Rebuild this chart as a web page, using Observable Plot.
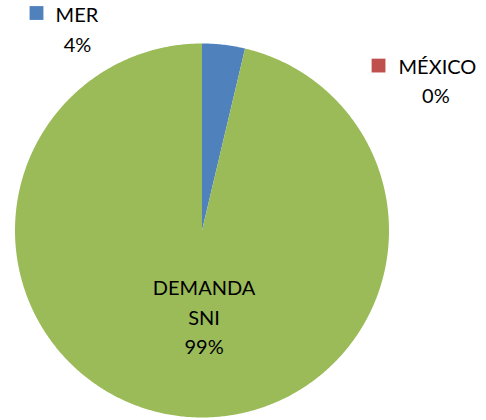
<!DOCTYPE html>
<html>
<head>
<meta charset="utf-8">
<script src="https://cdn.jsdelivr.net/npm/d3@7"></script>
<script src="https://cdn.jsdelivr.net/npm/@observablehq/plot@0.6"></script>
<style>
  html, body { margin: 0; padding: 0; background: #fff; }
  #chart { width: 486px; height: 420px; }
</style>
</head>
<body>
<div id="chart"></div>
<script>
// Data
const categories = ["MER", "MÉXICO", "DEMANDA\nSNI"];
const values = [3.7, 0, 96.3];
const pctLabels = ["4%", "0%", "99%"];
const colors = ["#4F81BD", "#C0504D", "#9BBB59"];

// Slice geometry from d3.pie (clockwise from 12 o'clock), in unit-radius coordinates
const pie = d3.pie().sort(null).value(d => d.value)(
  categories.map((c, i) => ({name: c, value: values[i], color: colors[i]}))
);
function ring(a0, a1) {
  const pts = [[0, 0]];
  const n = Math.max(2, Math.ceil((a1 - a0) / (Math.PI / 360)));
  for (let k = 0; k <= n; k++) {
    const a = a0 + (a1 - a0) * k / n;
    pts.push([Math.sin(a), Math.cos(a)]);
  }
  pts.push([0, 0]);
  return pts;
}
const slices = pie.map(p => ({
  type: "Feature",
  properties: {name: p.data.name, color: p.data.color},
  geometry: {type: "Polygon", coordinates: [ring(p.startAngle, p.endAngle)]}
}));

// Label layout (unit-radius coordinates)
const startLabels = [
  {text: categories[0], x: -0.783, y: 1.165}
];
const midLabels = [
  {text: pctLabels[0], x: -0.666, y: 1.006},
  {text: categories[1], x: 1.259, y: 0.885},
  {text: pctLabels[1], x: 1.251, y: 0.731},
  {text: categories[2] + "\n" + pctLabels[2], x: 0.011, y: -0.453}
];
const keys = [
  {x: -0.885, y: 1.163, color: colors[0]},
  {x: 0.944, y: 0.882, color: colors[1]}
];

const textStyle = {fontSize: 20, fill: "#000", lineHeight: 1.47, clip: false};

const chart = Plot.plot({
  width: 486,
  height: 420,
  marginLeft: 14.5,
  marginRight: 97.5,
  marginTop: 43,
  marginBottom: 3,
  projection: {
    type: "reflect-y",
    domain: {type: "MultiPoint", coordinates: [[-1, -1], [1, 1]]},
    inset: 0,
    clip: false
  },
  style: {fontFamily: "Lato, 'Open Sans', sans-serif", background: "#fff", overflow: "visible"},
  marks: [
    Plot.geo(slices, {fill: d => d.properties.color, stroke: "none"}),
    Plot.dot(keys, {x: "x", y: "y", symbol: "square", r: 7.8, fill: "color", stroke: "none", clip: false}),
    Plot.text(startLabels, {x: "x", y: "y", text: "text", textAnchor: "start", ...textStyle}),
    Plot.text(midLabels, {x: "x", y: "y", text: "text", textAnchor: "middle", ...textStyle})
  ]
});
document.getElementById("chart").appendChild(chart);
</script>
</body>
</html>
